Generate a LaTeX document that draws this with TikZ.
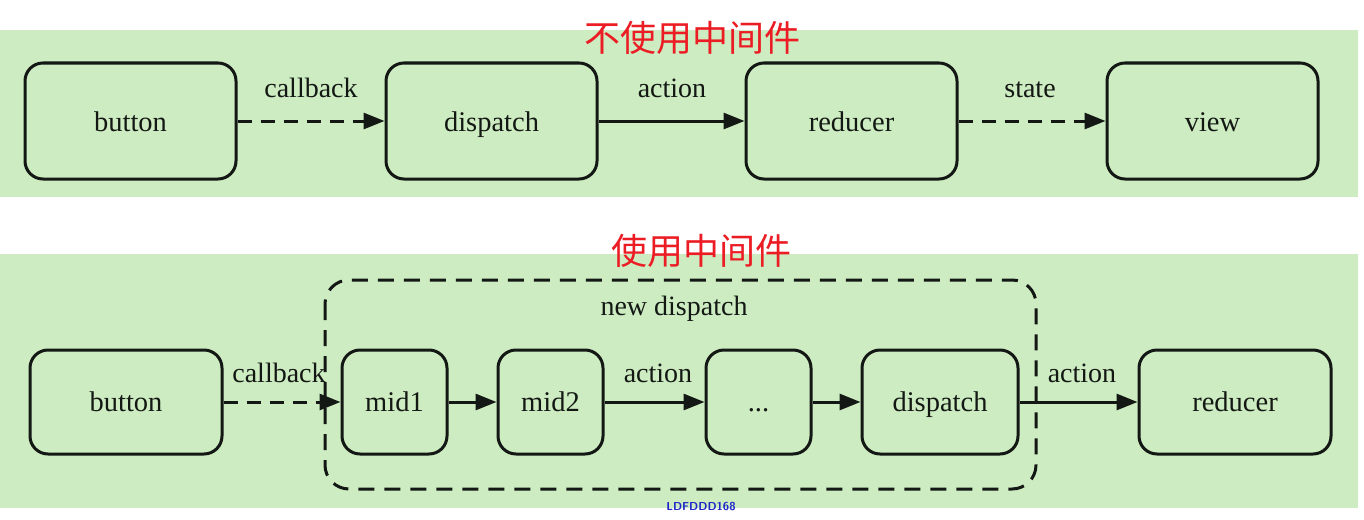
\documentclass[tikz,border=0pt]{standalone}
\usepackage{fontspec}
\setmainfont{Liberation Serif}
\newfontfamily\cjk{Noto Sans CJK SC}
\usetikzlibrary{arrows.meta}
\definecolor{bandgreen}{RGB}{205,236,193}
\definecolor{titlered}{RGB}{236,28,36}
\definecolor{inkdark}{RGB}{20,24,20}
\definecolor{markblue}{RGB}{30,40,200}
\tikzset{
  box/.style={draw=inkdark, line width=3pt, rounded corners=18pt, fill=bandgreen,
    text=inkdark, font=\fontsize{28.5}{31}\selectfont, inner sep=0pt, text depth=0pt},
  topbox/.style={box, minimum width=211pt, minimum height=116pt, text height=20pt},
  botbox/.style={box, minimum height=104pt, text height=18pt},
  conn/.style={draw=inkdark, line width=3pt, -{Triangle[length=21pt,width=16pt]}},
  dconn/.style={conn, dash pattern=on 14pt off 9pt},
  lbl/.style={text=inkdark, font=\fontsize{28}{31}\selectfont, inner sep=0pt, anchor=base},
  title/.style={text=titlered, font=\cjk\fontsize{36}{40}\selectfont, inner sep=0pt},
}
\begin{document}
\begin{tikzpicture}[x=1pt,y=-1pt]
\useasboundingbox (0,0) rectangle (1364,519);
\fill[white] (0,0) rectangle (1364,519);
\fill[bandgreen] (0,30) rectangle (1358,197);
\fill[bandgreen] (0,254) rectangle (1358,508);
% titles
\node[title] (t1) at (692,38) {不使用中间件};
\node[title] (t2) at (701,251) {使用中间件};
% top row
\node[topbox] (b1) at (130.5,121) {button};
\node[topbox] (d1) at (491.5,121) {dispatch};
\node[topbox] (r1) at (851.5,121) {reducer};
\node[topbox] (v1) at (1212.5,121) {view};
\draw[dconn] (b1.east) -- (d1.west);
\draw[conn] (d1.east) -- (r1.west);
\draw[dconn] (r1.east) -- (v1.west);
\node[lbl] (l1) at (311,97) {callback};
\node[lbl] (l2) at (672,97) {action};
\node[lbl] (l3) at (1030,97) {state};
% bottom row
\draw[draw=inkdark, line width=3pt, rounded corners=24pt, dash pattern=on 16pt off 10pt]
  (325,280) rectangle (1036,489);
\node[lbl] (nd) at (674,315) {new dispatch};
\node[botbox, minimum width=192pt] (b2) at (126,402) {button};
\node[botbox, minimum width=105pt] (m1) at (394.5,402) {mid1};
\node[botbox, minimum width=105pt] (m2) at (550.5,402) {mid2};
\node[botbox, minimum width=105pt] (m3) at (758.5,402) {...};
\node[botbox, minimum width=156pt] (d2) at (940,402) {dispatch};
\node[botbox, minimum width=192pt] (r2) at (1235,402) {reducer};
\draw[dconn] (b2.east) -- (m1.west);
\draw[conn] (m1.east) -- (m2.west);
\draw[conn] (m2.east) -- (m3.west);
\draw[conn] (m3.east) -- (d2.west);
\draw[conn] (d2.east) -- (r2.west);
\node[lbl] (l4) at (279,382) {callback};
\node[lbl] (l5) at (658,382) {action};
\node[lbl] (l6) at (1082,382) {action};
% watermark
\node[text=markblue, font=\sffamily\bfseries\fontsize{11.5}{13}\selectfont, inner sep=0pt] (wm) at (701,507) {LDFDDD168};
\end{tikzpicture}
\end{document}
